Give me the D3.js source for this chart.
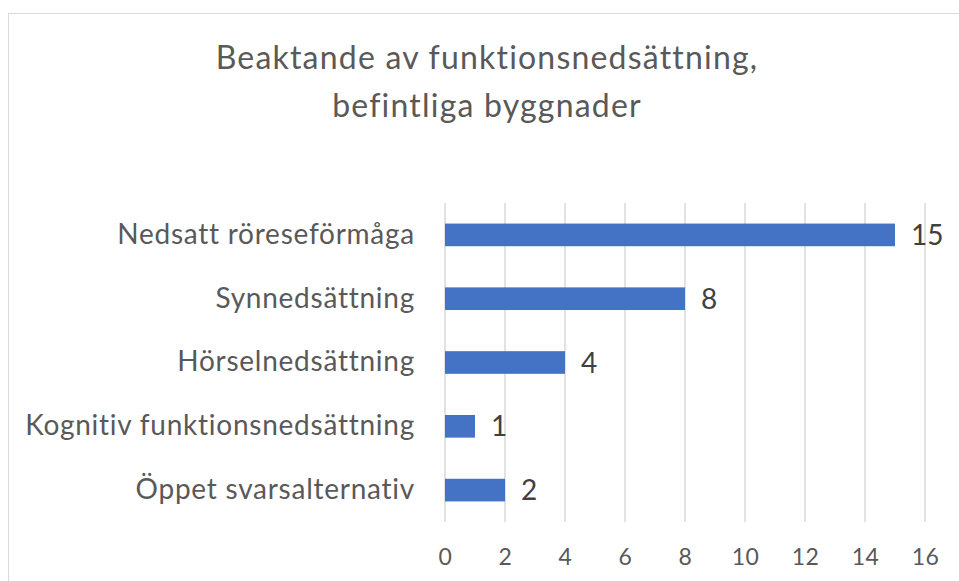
<!DOCTYPE html>
<html>
<head>
<meta charset="utf-8">
<title>Beaktande av funktionsnedsättning</title>
<style>
  body { margin: 0; background: #fff; }
  svg { display: block; font-family: Lato, "Open Sans", sans-serif; font-variant-ligatures: none; }
</style>
</head>
<body>
<script src="https://d3js.org/d3.v7.min.js"></script>
<script>
// data
var categories = ["Nedsatt röreseförmåga", "Synnedsättning", "Hörselnedsättning",
                  "Kognitiv funktionsnedsättning", "Öppet svarsalternativ"];
var values = [15, 8, 4, 1, 2];
var xTicks = [0, 2, 4, 6, 8, 10, 12, 14, 16];
var titleLines = ["Beaktande av funktionsnedsättning,", "befintliga byggnader"];

var width = 959, height = 581;
var textColor = "#595959", labelColor = "#404040",
    barColor = "#4472C4", gridColor = "#D9D9D9";

var plot = { left: 445, right: 925, top: 203, bottom: 522 };

var svg = d3.select("body").append("svg")
    .attr("width", width)
    .attr("height", height);

// chart border (only left and top edges visible in the crop)
svg.append("rect")
    .attr("x", 8.5).attr("y", 13.5)
    .attr("width", width + 20).attr("height", height + 20)
    .attr("fill", "#fff")
    .attr("stroke", gridColor);

var x = d3.scaleLinear().domain([0, 16]).range([plot.left, plot.right]);
var y = d3.scaleBand().domain(categories).range([plot.top, plot.bottom])
    .paddingInner(0.645).paddingOuter(0.3225);

// title
svg.append("g").selectAll("text").data(titleLines)
  .enter().append("text")
    .attr("x", 487)
    .attr("y", function(d, i) { return 69 + i * 48; })
    .attr("text-anchor", "middle")
    .attr("fill", textColor)
    .attr("font-size", 32)
    .attr("letter-spacing", 1.2)
    .text(function(d) { return d; });

// vertical gridlines
svg.append("g").selectAll("line").data(xTicks)
  .enter().append("line")
    .attr("x1", function(d) { return x(d); })
    .attr("x2", function(d) { return x(d); })
    .attr("y1", plot.top)
    .attr("y2", plot.bottom)
    .attr("stroke", gridColor)
    .attr("stroke-width", 1.5);

// x axis tick labels
var xAxis = d3.axisBottom(x).tickValues(xTicks).tickSize(0).tickPadding(0);
var gx = svg.append("g")
    .attr("transform", "translate(0," + 565 + ")")
    .call(xAxis);
gx.select(".domain").remove();
gx.selectAll("text")
    .attr("dy", 0)
    .attr("fill", textColor)
    .attr("font-size", 23)
    .attr("letter-spacing", 0.5)
    .attr("font-family", "Lato, 'Open Sans', sans-serif");

// y axis category labels
var yAxis = d3.axisLeft(y).tickSize(0).tickPadding(30);
var gy = svg.append("g")
    .attr("transform", "translate(" + plot.left + ",0)")
    .call(yAxis);
gy.select(".domain").remove();
gy.selectAll("text")
    .attr("fill", textColor)
    .attr("font-size", 28)
    .attr("letter-spacing", 0.75)
    .attr("font-family", "Lato, 'Open Sans', sans-serif");

// bars
svg.append("g").selectAll("rect").data(values)
  .enter().append("rect")
    .attr("x", x(0))
    .attr("y", function(d, i) { return y(categories[i]); })
    .attr("width", function(d) { return x(d) - x(0); })
    .attr("height", y.bandwidth())
    .attr("fill", barColor);

// data labels
svg.append("g").selectAll("text").data(values)
  .enter().append("text")
    .attr("x", function(d) { return x(d) + 16; })
    .attr("y", function(d, i) { return y(categories[i]) + y.bandwidth() / 2; })
    .attr("dy", "0.36em")
    .attr("fill", labelColor)
    .attr("font-size", 28)
    .text(function(d) { return d; });
</script>
</body>
</html>
